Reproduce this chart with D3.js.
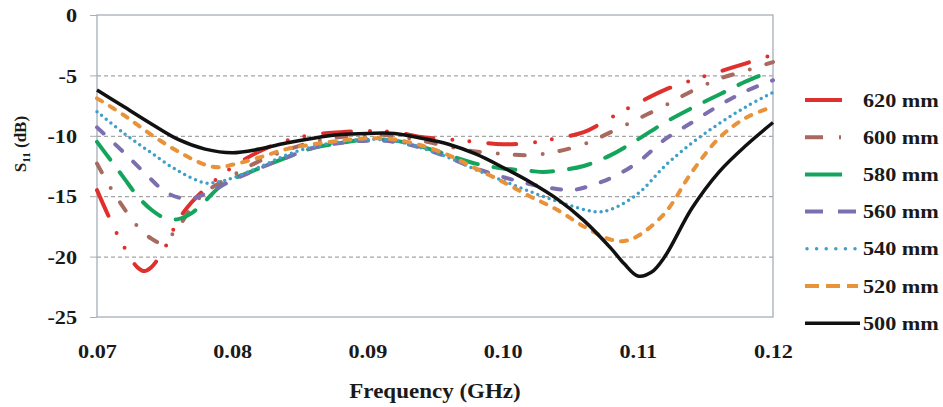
<!DOCTYPE html>
<html lang='en'>
  <head>
    <style type='text/css'>
      body {margin: 0; background-color: #fff;}
      #chart {width: 943px; height: 407px;}
      text {font-family: 'Liberation Serif', 'Times New Roman', serif; font-weight: bold; fill: #1a1a1a;}
    </style>
  </head>
  <body>

    <div id='chart'>
      <svg width='943' height='407'></svg>
    </div>

    <script src='https://d3js.org/d3.v7.min.js'></script>
    <script type='text/javascript'>
        // frequency (GHz) for each series, and S11 (dB)
        var f500 = [0.070,0.072,0.074,0.076,0.078,0.080,0.082,0.084,0.086,0.088,0.090,0.092,0.094,0.096,0.098,0.100,0.102,0.104,0.106,0.108,0.109,0.110,0.111,0.112,0.114,0.116,0.118,0.120];
        var s500 = [-6.2,-7.6,-9.0,-10.3,-11.1,-11.4,-11.1,-10.6,-10.2,-9.9,-9.8,-9.8,-10.2,-10.7,-11.5,-12.6,-13.8,-15.2,-17.0,-19.3,-20.6,-21.6,-21.3,-20.0,-16.0,-13.0,-10.8,-8.9];

        var f520 = [0.070,0.072,0.074,0.076,0.078,0.079,0.080,0.082,0.084,0.086,0.088,0.090,0.092,0.094,0.096,0.098,0.100,0.102,0.104,0.106,0.108,0.109,0.110,0.112,0.114,0.116,0.118,0.120];
        var s520 = [-6.9,-8.3,-9.9,-11.3,-12.4,-12.6,-12.4,-11.8,-11.1,-10.7,-10.4,-10.2,-10.3,-10.8,-11.6,-12.7,-13.8,-15.0,-16.1,-17.5,-18.6,-18.7,-18.3,-16.4,-13.0,-10.2,-8.5,-7.6];

        var f540 = [0.070,0.072,0.074,0.076,0.078,0.079,0.080,0.082,0.084,0.086,0.088,0.090,0.092,0.094,0.096,0.098,0.100,0.102,0.104,0.106,0.107,0.108,0.110,0.112,0.114,0.116,0.118,0.120];
        var s540 = [-8.0,-9.8,-11.4,-12.9,-13.9,-13.8,-13.5,-12.6,-11.6,-10.9,-10.5,-10.3,-10.4,-11.0,-11.8,-12.8,-13.7,-14.6,-15.4,-16.1,-16.3,-16.1,-14.8,-12.5,-10.6,-9.0,-7.6,-6.4];

        var f560 = [0.070,0.072,0.074,0.075,0.076,0.077,0.078,0.080,0.082,0.084,0.086,0.088,0.090,0.092,0.094,0.096,0.098,0.100,0.102,0.104,0.105,0.106,0.108,0.110,0.112,0.114,0.116,0.118,0.120];
        var s560 = [-9.3,-11.4,-13.6,-14.6,-15.1,-15.2,-14.8,-13.7,-12.7,-11.8,-11.0,-10.6,-10.4,-10.5,-11.0,-11.8,-12.7,-13.4,-14.0,-14.4,-14.5,-14.3,-13.5,-12.2,-10.3,-8.9,-7.5,-6.3,-5.4];

        var f580 = [0.070,0.071,0.072,0.073,0.074,0.075,0.076,0.077,0.078,0.079,0.080,0.082,0.084,0.086,0.088,0.090,0.092,0.094,0.096,0.098,0.100,0.102,0.103,0.104,0.106,0.108,0.110,0.112,0.114,0.116,0.118,0.120];
        var s580 = [-10.5,-12.0,-13.5,-15.0,-16.1,-16.8,-16.9,-16.4,-15.4,-14.3,-13.6,-12.7,-11.8,-11.0,-10.6,-10.3,-10.4,-10.9,-11.6,-12.3,-12.7,-12.9,-13.0,-12.9,-12.5,-11.6,-10.3,-8.9,-7.7,-6.6,-5.5,-4.6];

        var f600 = [0.070,0.071,0.072,0.073,0.074,0.0745,0.075,0.076,0.077,0.078,0.080,0.082,0.084,0.086,0.088,0.090,0.092,0.094,0.096,0.098,0.100,0.102,0.104,0.106,0.108,0.110,0.112,0.114,0.116,0.118,0.120];
        var s600 = [-12.3,-14.3,-16.0,-17.5,-18.5,-18.8,-18.7,-17.6,-15.9,-14.7,-13.3,-12.1,-11.2,-10.5,-10.1,-9.9,-10.0,-10.4,-10.9,-11.3,-11.5,-11.6,-11.3,-10.7,-9.7,-8.6,-7.5,-6.3,-5.3,-4.6,-3.9];

        var f620 = [0.070,0.071,0.072,0.073,0.0735,0.074,0.075,0.076,0.077,0.078,0.080,0.082,0.084,0.086,0.088,0.090,0.092,0.094,0.096,0.098,0.100,0.102,0.104,0.106,0.108,0.110,0.112,0.114,0.116,0.118,0.120];
        var s620 = [-14.5,-17.0,-19.2,-20.9,-21.2,-20.9,-19.3,-17.0,-15.5,-14.4,-12.6,-11.3,-10.4,-9.9,-9.7,-9.6,-9.7,-10.1,-10.3,-10.5,-10.7,-10.6,-10.2,-9.7,-8.5,-7.3,-6.2,-5.4,-4.7,-4.0,-3.3];

        var seriesNames = ['620 mm', '600 mm', '580 mm', '560 mm', '540 mm', '520 mm', '500 mm'];
        var xTicks = [0.07, 0.08, 0.09, 0.10, 0.11, 0.12];
        var yTicks = [0, -5, -10, -15, -20, -25];

        // line styles, in legend order
        var styles = [
          {color: '#e0302e', dash: '28,19,0,17,0,19', legendDash: '37,100', width: 4},
          {color: '#a8695f', dash: '10,18,0,17', legendDash: '18,16,2,100', width: 4},
          {color: '#13a55c', dash: '22,16', legendDash: '37,100', width: 4},
          {color: '#7d6faf', dash: '9,16', legendDash: '18,15', width: 4},
          {color: '#3f9fc9', dash: '0,6', legendDash: '0,9.6', width: 3.5, cap: 'round'},
          {color: '#e8923a', dash: '6,9', legendDash: '14,7', width: 4},
          {color: '#111111', dash: null, legendDash: null, width: 3.5}
        ];
        var series = [[f620, s620], [f600, s600], [f580, s580], [f560, s560], [f540, s540], [f520, s520], [f500, s500]];

        var svg = d3.select('#chart svg');
        var margin = {top: 15, left: 97};
        var width = 676, height = 302;
        var stretch = 1.17; // the labels in the original are slightly wide

        var x = d3.scaleLinear().domain([0.07, 0.12]).range([0, width]);
        var y = d3.scaleLinear().domain([-25, 0]).range([height, 0]);

        var g = svg.append('g').attr('transform', 'translate(' + margin.left + ',' + margin.top + ')');

        // dashed gridlines
        g.append('g')
          .call(d3.axisLeft(y).tickValues([-5, -10, -15, -20]).tickSize(-width).tickFormat(''))
          .call(function(a) {
            a.select('.domain').remove();
            a.selectAll('line').attr('stroke', '#8f8f8f').attr('stroke-dasharray', '4,3');
          });

        // plot frame
        g.append('rect')
          .attr('width', width).attr('height', height)
          .attr('fill', 'none').attr('stroke', '#a7adbb').attr('stroke-width', 1.3);

        // y axis ticks and labels
        var yAxis = g.append('g')
          .call(d3.axisLeft(y).tickValues(yTicks).tickSize(7).tickFormat(function(d) { return String(d); }));
        yAxis.select('.domain').remove();
        yAxis.selectAll('line').attr('stroke', '#a7adbb');
        yAxis.selectAll('text').remove();
        yAxis.selectAll('.tick').append('text')
          .attr('transform', 'translate(-20,0) scale(' + stretch + ',1)')
          .attr('dy', '0.35em')
          .style('text-anchor', 'end')
          .style('font-size', '19px')
          .text(function(d) { return String(d); });

        // x axis labels
        var xAxis = g.append('g')
          .attr('transform', 'translate(0,' + height + ')')
          .call(d3.axisBottom(x).tickValues(xTicks).tickSize(0).tickFormat(d3.format('.2f')));
        xAxis.select('.domain').remove();
        xAxis.selectAll('text').remove();
        xAxis.selectAll('.tick').append('text')
          .attr('transform', 'translate(0,41) scale(' + stretch + ',1)')
          .style('text-anchor', 'middle')
          .style('font-size', '19px')
          .text(d3.format('.2f'));

        // axis titles
        svg.append('text')
          .attr('transform', 'translate(' + (margin.left + width / 2) + ',398) scale(1.15,1)')
          .style('text-anchor', 'middle')
          .style('font-size', '20px')
          .text('Frequency (GHz)');

        var yTitle = svg.append('text')
          .attr('transform', 'translate(26,144) rotate(-90)')
          .style('text-anchor', 'middle')
          .style('font-size', '17px');
        yTitle.append('tspan').text('S');
        yTitle.append('tspan').attr('dy', 4).style('font-size', '11px').text('11');
        yTitle.append('tspan').attr('dy', -4).text(' (dB)');

        // curves
        var line = d3.line()
          .x(function(d) { return x(d[0]); })
          .y(function(d) { return y(d[1]); })
          .curve(d3.curveCatmullRom.alpha(0.5));

        series.forEach(function(s, i) {
          var pts = d3.zip(s[0], s[1]);
          var st = styles[i];
          g.append('path')
            .datum(pts)
            .attr('d', line)
            .attr('fill', 'none')
            .attr('stroke', st.color)
            .attr('stroke-width', st.width)
            .attr('stroke-linecap', st.dash ? 'round' : 'butt')
            .attr('stroke-linejoin', 'round')
            .attr('stroke-dasharray', st.dash);
        });

        // legend
        var legend = svg.append('g').attr('transform', 'translate(805,100)');
        var rowGap = 37.2;
        seriesNames.forEach(function(name, i) {
          var st = styles[i];
          var row = legend.append('g').attr('transform', 'translate(0,' + i * rowGap + ')');
          row.append('line')
            .attr('x1', st.cap ? 2 : 0).attr('x2', st.dash ? 53 : 55)
            .attr('y1', 0).attr('y2', 0)
            .attr('stroke', st.color)
            .attr('stroke-width', st.width)
            .attr('stroke-linecap', st.cap || 'butt')
            .attr('stroke-dasharray', st.legendDash);
          row.append('text')
            .attr('transform', 'translate(58,0) scale(' + stretch + ',1)')
            .attr('dy', '0.35em')
            .style('font-size', '19px')
            .text(name);
        });
    </script>
  </body>
</html>
